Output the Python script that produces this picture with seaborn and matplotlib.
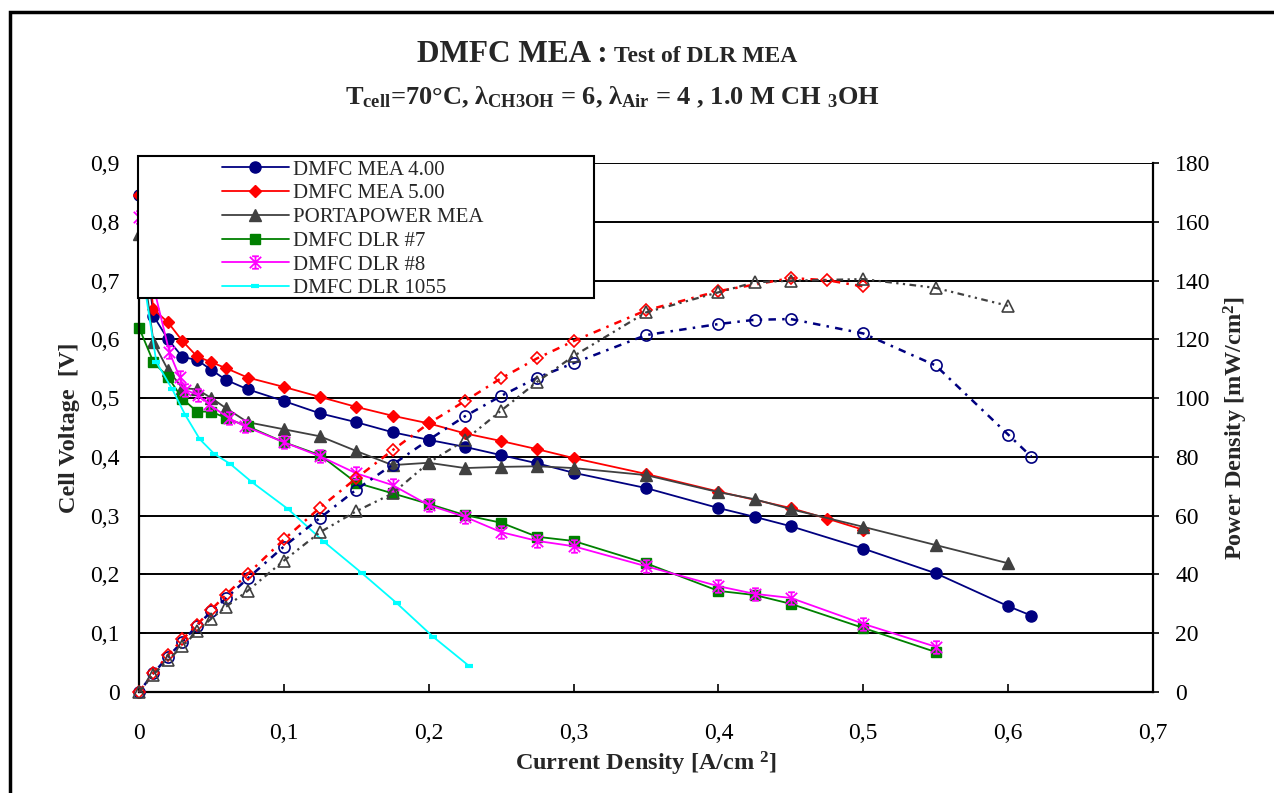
import numpy as np
import matplotlib
matplotlib.use('Agg')
import matplotlib.pyplot as plt
import seaborn as sns
from matplotlib.patches import Rectangle
from matplotlib.path import Path
from matplotlib.ticker import FuncFormatter, MultipleLocator

# courant (A/cm2) et tension (V)
i_mea4 = [0, 0.01, 0.02, 0.03, 0.04, 0.05, 0.06, 0.075, 0.1, 0.125, 0.15, 0.175, 0.2,
          0.225, 0.25, 0.275, 0.3, 0.35, 0.4, 0.425, 0.45, 0.5, 0.55, 0.6, 0.616]
v_mea4 = [0.845, 0.64, 0.60, 0.57, 0.565, 0.548, 0.531, 0.515, 0.495, 0.474, 0.459, 0.442, 0.429,
          0.417, 0.403, 0.389, 0.373, 0.347, 0.313, 0.298, 0.282, 0.244, 0.202, 0.146, 0.13]

i_mea5 = [0, 0.01, 0.02, 0.03, 0.04, 0.05, 0.06, 0.075, 0.1, 0.125, 0.15, 0.175, 0.2,
          0.225, 0.25, 0.275, 0.3, 0.35, 0.4, 0.45, 0.475, 0.5]
v_mea5 = [0.845, 0.651, 0.629, 0.597, 0.571, 0.561, 0.551, 0.535, 0.519, 0.502, 0.485, 0.47, 0.457,
          0.44, 0.427, 0.413, 0.398, 0.371, 0.341, 0.313, 0.295, 0.276]

i_porta = [0, 0.01, 0.02, 0.03, 0.04, 0.05, 0.06, 0.075, 0.1, 0.125, 0.15, 0.175, 0.2,
           0.225, 0.25, 0.275, 0.3, 0.35, 0.4, 0.425, 0.45, 0.5, 0.55, 0.6]
v_porta = [0.78, 0.595, 0.548, 0.517, 0.515, 0.50, 0.483, 0.459, 0.447, 0.435, 0.41, 0.386, 0.39,
           0.381, 0.383, 0.384, 0.381, 0.369, 0.34, 0.328, 0.311, 0.281, 0.25, 0.219]

i_dlr7 = [0, 0.01, 0.02, 0.03, 0.04, 0.05, 0.06, 0.075, 0.1, 0.125, 0.15, 0.175, 0.2,
          0.225, 0.25, 0.275, 0.3, 0.35, 0.4, 0.425, 0.45, 0.5, 0.55]
v_dlr7 = [0.62, 0.561, 0.536, 0.499, 0.477, 0.477, 0.466, 0.452, 0.425, 0.403, 0.356, 0.338, 0.32,
          0.301, 0.288, 0.264, 0.257, 0.219, 0.172, 0.165, 0.15, 0.109, 0.068]

i_dlr8 = [0, 0.01, 0.021, 0.028, 0.032, 0.041, 0.048, 0.062, 0.073, 0.1, 0.125, 0.15, 0.175,
          0.2, 0.225, 0.25, 0.275, 0.3, 0.35, 0.4, 0.425, 0.45, 0.5, 0.55]
v_dlr8 = [0.808, 0.69, 0.578, 0.536, 0.514, 0.505, 0.49, 0.466, 0.452, 0.425, 0.401, 0.372, 0.352,
          0.318, 0.298, 0.272, 0.257, 0.248, 0.214, 0.18, 0.167, 0.16, 0.116, 0.077]

i_1055 = [0.002, 0.012, 0.023, 0.032, 0.042, 0.052, 0.063, 0.078, 0.103, 0.128, 0.154, 0.178, 0.203, 0.228]
v_1055 = [0.72, 0.561, 0.515, 0.471, 0.43, 0.405, 0.388, 0.357, 0.311, 0.255, 0.202, 0.151, 0.094, 0.044]

labels = ['DMFC MEA 4.00', 'DMFC MEA 5.00', 'PORTAPOWER MEA', 'DMFC DLR #7', 'DMFC DLR #8', 'DMFC DLR 1055']

# densite de puissance mW/cm2 = V * i * 1000
p_mea4 = np.array(v_mea4) * np.array(i_mea4) * 1000
p_mea5 = np.array(v_mea5) * np.array(i_mea5) * 1000
p_porta = np.array(v_porta) * np.array(i_porta) * 1000

navy, red, gray, green, magenta, cyan = '#000080', '#FF0000', '#404040', '#008000', '#FF00FF', '#00FFFF'

sns.set_style("white")
plt.rcParams['font.family'] = ['Liberation Serif', 'DejaVu Serif']
plt.rcParams['mathtext.fontset'] = 'custom'
plt.rcParams['mathtext.rm'] = 'Liberation Serif:bold'
plt.rcParams['mathtext.bf'] = 'Liberation Serif:bold'
plt.rcParams['mathtext.it'] = 'Liberation Serif:bold'

W, H = 1274, 793
fig = plt.figure(figsize=(W / 100, H / 100), dpi=100)
ax = fig.add_axes([139 / W, 1 - 692 / H, (1153 - 139) / W, (692 - 163) / H])
ax2 = ax.twinx()

# marqueur etoile style Excel
star = Path([(-1, -1), (1, 1), (-1, 1), (1, -1), (0, -1.1), (0, 1.1), (-0.6, 1.1), (0.6, 1.1), (-0.6, -1.1), (0.6, -1.1)],
            [Path.MOVETO, Path.LINETO] * 5)

common = dict(estimator=None, sort=False, legend=False, clip_on=False)

# courbes de polarisation
sns.lineplot(x=i_mea4, y=v_mea4, ax=ax, color=navy, lw=1.3, marker='o', ms=8, mec=navy, mew=1, label=labels[0], **common)
sns.lineplot(x=i_mea5, y=v_mea5, ax=ax, color=red, lw=1.3, marker='D', ms=6.5, mec=red, mew=1, label=labels[1], **common)
sns.lineplot(x=i_porta, y=v_porta, ax=ax, color=gray, lw=1.3, marker='^', ms=8, mec=gray, mew=1, label=labels[2], **common)
sns.lineplot(x=i_dlr7, y=v_dlr7, ax=ax, color=green, lw=1.3, marker='s', ms=7.5, mec=green, mew=1, label=labels[3], **common)
sns.lineplot(x=i_dlr8, y=v_dlr8, ax=ax, color=magenta, lw=1.3, marker=star, ms=9, mec=magenta, mew=1.3, label=labels[4], **common)
sns.lineplot(x=i_1055, y=v_1055, ax=ax, color=cyan, lw=1.3, marker='_', ms=6, mec=cyan, mew=3, label=labels[5], **common)

# courbes de puissance (axe de droite)
sns.lineplot(x=i_mea4, y=p_mea4, ax=ax2, color=navy, lw=1.8, linestyle=(0, (1, 2.5, 3, 2.5)), marker='o', ms=8,
             mfc='none', mec=navy, mew=1.2, **common)
sns.lineplot(x=i_mea5, y=p_mea5, ax=ax2, color=red, lw=1.8, linestyle=(0, (3, 2.5, 1, 2.5)), marker='D', ms=6.5,
             mfc='none', mec=red, mew=1.2, **common)
sns.lineplot(x=i_porta, y=p_porta, ax=ax2, color=gray, lw=1.6, linestyle=(0, (3, 2, 1, 2, 1, 2)), marker='^', ms=8,
             mfc='none', mec=gray, mew=1.2, **common)

ax.set_xlim(0, 0.7)
ax.set_ylim(0, 0.9)
ax2.set_ylim(0, 180)
ax.xaxis.set_major_locator(MultipleLocator(0.1))
ax.yaxis.set_major_locator(MultipleLocator(0.1))
ax2.yaxis.set_major_locator(MultipleLocator(20))

def virgule(v, pos):
    if abs(v) < 1e-9:
        return '0'
    return f'{v:.1f}'.replace('.', ',')

ax.xaxis.set_major_formatter(FuncFormatter(virgule))
ax.yaxis.set_major_formatter(FuncFormatter(virgule))
ax2.yaxis.set_major_formatter(FuncFormatter(lambda v, p: f'{v:.0f}'))

ax.yaxis.grid(True, color='black', lw=1.4)
ax.set_axisbelow(True)
ax.set_xlabel('')
ax.set_ylabel('')
ax2.set_ylabel('')

for s in ['top', 'right']:
    ax.spines[s].set_visible(False)
for s in ['top', 'left', 'bottom']:
    ax2.spines[s].set_visible(False)
for sp in [ax.spines['left'], ax.spines['bottom'], ax2.spines['right']]:
    sp.set_color('black')
    sp.set_linewidth(1.6)

ax.tick_params(axis='x', bottom=True, direction='in', length=6, width=1.2, pad=22, labelsize=17, colors='black')
ax.tick_params(axis='y', left=True, direction='in', length=5, width=1.2, pad=14, labelsize=17, colors='black')
ax2.tick_params(axis='y', right=True, direction='out', length=4, width=1.2, pad=12, labelsize=17, colors='black')

# titres
fig.text(608 / W, 1 - 62 / H, 'DMFC MEA :', ha='right', va='baseline', fontsize=22.5, fontweight='bold')
fig.text(614 / W, 1 - 62 / H, 'Test of DLR MEA', ha='left', va='baseline', fontsize=17, fontweight='bold')
fig.text(612 / W, 1 - 104 / H,
         r'T$_{\mathrm{cell}}$=70°C, λ$_{\mathrm{CH3OH}}$ = 6, λ$_{\mathrm{Air}}$ = 4 , 1.0 M CH $_{\mathrm{3}}$OH',
         ha='center', va='baseline', fontsize=19, fontweight='bold')

fig.text(69 / W, 1 - 428 / H, 'Cell Voltage  [V]', rotation=90, ha='center', va='center',
         fontsize=17.5, fontweight='bold')
fig.text(1236 / W, 1 - 428 / H, r'Power Density [mW/cm$^{\mathrm{2}}$]', rotation=90, ha='center', va='center',
         fontsize=17.5, fontweight='bold')
fig.text(646 / W, 1 - 770 / H, r'Current Density [A/cm $^{\mathrm{2}}$]', ha='center', va='baseline',
         fontsize=17.5, fontweight='bold')

# cadre de la legende et legende
fig.add_artist(Rectangle((138 / W, 1 - 298 / H), 456 / W, 142 / H, transform=fig.transFigure,
                         fc='white', ec='black', lw=1.5, zorder=5))
handles = ax.get_lines()[:6]
leg = fig.legend(handles, labels, loc='upper left', bbox_to_anchor=(222 / W, 1 - 160 / H), frameon=False,
                 fontsize=15, handlelength=3.2, handletextpad=0.2, labelspacing=0.2,
                 borderpad=0, borderaxespad=0, numpoints=1)
leg.set_zorder(6)

# cadre exterieur
fig.add_artist(Rectangle((10 / W, -0.05), 1.0, 1 - 12 / H + 0.05, transform=fig.transFigure,
                         fill=False, ec='black', lw=2.5, zorder=7))

fig.savefig('out.png', dpi=100)
